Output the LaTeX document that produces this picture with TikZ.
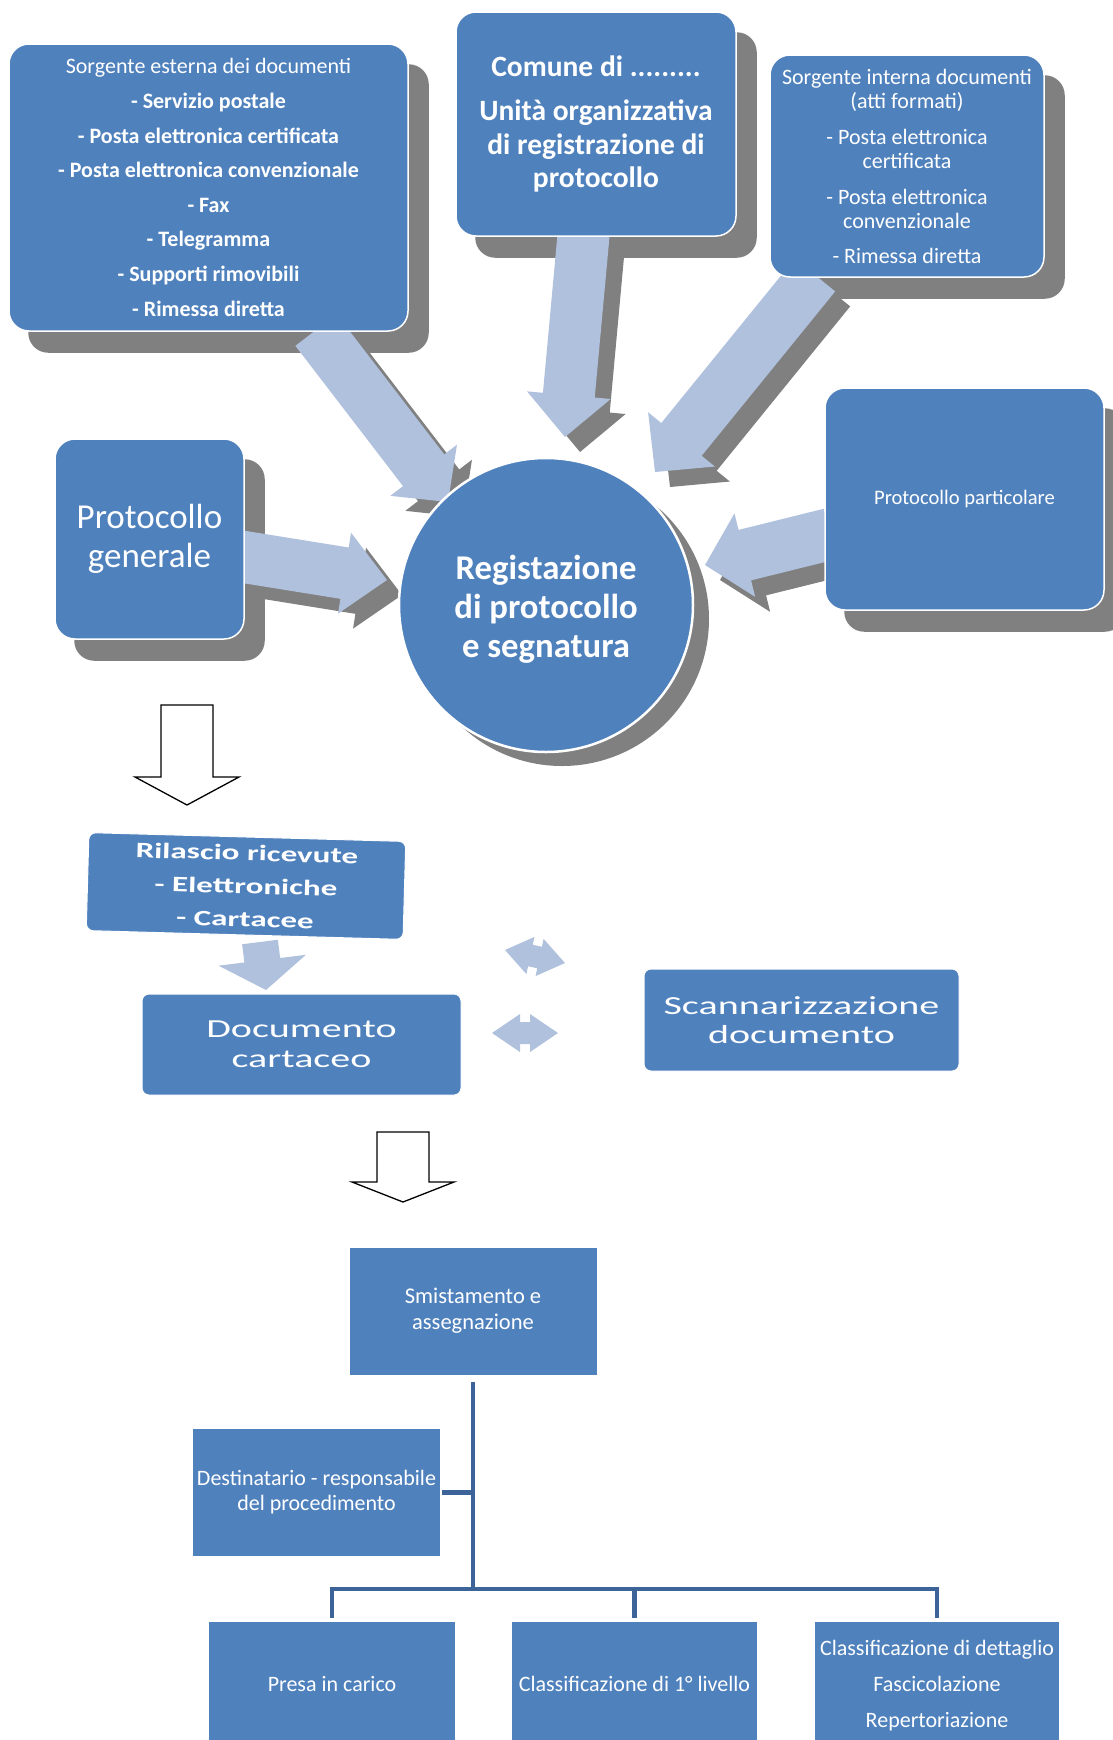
\documentclass[tikz,border=0pt]{standalone}
\usepackage{fontspec}
\setmainfont{Carlito}
\newfontfamily\widefont[FakeStretch=1.54]{Carlito}
\newfontfamily\widebfont[FakeStretch=1.5]{Carlito}
\usetikzlibrary{calc}
\pgfdeclarelayer{bg}
\pgfsetlayers{bg,main}
\definecolor{boxblue}{HTML}{4F81BD}
\definecolor{arrowlight}{HTML}{B0C1DD}
\definecolor{shadowgrey}{HTML}{808080}
\definecolor{linedark}{HTML}{3D6499}
\newcommand\fatarrow[6]{%
  \coordinate (fa-h) at ($(#2)!#5!(#1)$);
  \path[#6] ($(#1)!#3!90:(#2)$) -- ($(fa-h)!#3!90:(#2)$) -- ($(fa-h)!#4!90:(#2)$) -- (#2) -- ($(fa-h)!#4!-90:(#2)$) -- ($(fa-h)!#3!-90:(#2)$) -- ($(#1)!#3!-90:(#2)$) -- cycle;}
\newcommand\dblarrow[6]{%
  \coordinate (da-h1) at ($(#1)!#5!(#2)$);
  \coordinate (da-h2) at ($(#2)!#5!(#1)$);
  \path[#6] (#1) -- ($(da-h1)!#4!90:(#2)$) -- ($(da-h1)!#3!90:(#2)$) -- ($(da-h2)!#3!90:(#2)$) -- ($(da-h2)!#4!90:(#2)$) -- (#2) -- ($(da-h2)!#4!-90:(#2)$) -- ($(da-h2)!#3!-90:(#2)$) -- ($(da-h1)!#3!-90:(#2)$) -- ($(da-h1)!#4!-90:(#2)$) -- cycle;}
\begin{document}
\begin{tikzpicture}[x=1pt,y=-1pt,
  box/.style={fill=boxblue, draw=white, line width=1.5pt, rounded corners=20pt, text=white, align=center, inner sep=0pt},
  softbox/.style={fill=boxblue, draw=white, line width=1pt, rounded corners=7pt, text=white, align=center, inner sep=0pt},
  flatbox/.style={fill=boxblue, text=white, align=center, inner sep=0pt},
  boxtext/.style={text=white, align=center, inner sep=0pt},
  lightarrow/.style={fill=arrowlight},
  shade/.style={fill=shadowgrey},
  tree/.style={draw=linedark, line width=4.5pt},
  whitearrow/.style={fill=white, draw=black, line width=1.3pt, line join=miter}]
\useasboundingbox (0,0) rectangle (1112,1740);

% ---- top boxes
\node[box, minimum width=399pt, minimum height=287pt, font={\fontsize{22}{34.6}\selectfont}] (ext) at (208.5,187.5)
 {Sorgente esterna dei documenti\\ \textbf{- Servizio postale}\\ \textbf{- Posta elettronica certificata}\\ \textbf{- Posta elettronica convenzionale}\\ \textbf{- Fax}\\ \textbf{- Telegramma}\\ \textbf{- Supporti rimovibili}\\ \textbf{- Rimessa diretta}};
\node[box, minimum width=280pt, minimum height=224pt, font={\bfseries\fontsize{29.5}{33.5}\selectfont}] (com) at (596,124)
 {Comune di .........\\[11pt] Unità organizzativa\\ di registrazione di\\ protocollo};
\node[box, minimum width=274pt, minimum height=222pt, font={\fontsize{22}{24.5}\selectfont}] (int) at (907,166)
 {Sorgente interna documenti\\ (atti formati)\\[11pt] - Posta elettronica\\ certificata\\[11pt] - Posta elettronica\\ convenzionale\\[10pt] - Rimessa diretta};
\node[box, minimum width=189pt, minimum height=200pt, font={\fontsize{35}{39}\selectfont}] (pg) at (149.5,539)
 {Protocollo\\ generale};
\node[box, minimum width=279pt, minimum height=222pt, font={\fontsize{20.6}{24}\selectfont}] (pp) at (964.5,499)
 {Protocollo particolare};
\node[circle, fill=boxblue, draw=white, line width=2.5pt, minimum size=294pt, inner sep=0pt,
  label={[boxtext, yshift=-4pt, font={\bfseries\fontsize{34.7}{39}\selectfont}]center:Registazione\\ di protocollo\\ e segnatura}] (circ) at (546,605) {};

% ---- arrow end points
\coordinate (a1) at (316,330); \coordinate (a2) at (448,502);
\coordinate (b1) at (584,230); \coordinate (b2) at (565,437);
\coordinate (c1) at (815,275); \coordinate (c2) at (655,472);
\coordinate (d1) at (830,534); \coordinate (d2) at (705,565);
\coordinate (e1) at (238,556); \coordinate (e2) at (387,580);

\begin{pgfonlayer}{bg}
 \begin{scope}[transform canvas={xshift=20pt,yshift=-21pt}]
  \fill[shade, rounded corners=20pt] (ext.north west) rectangle (ext.south east);
  \fill[shade, rounded corners=20pt] (com.north west) rectangle (com.south east);
  \fill[shade, rounded corners=20pt] (int.north west) rectangle (int.south east);
  \fill[shade, rounded corners=20pt] (pg.north west) rectangle (pg.south east);
  \fill[shade, rounded corners=20pt] (pp.north west) rectangle (pp.south east);
 \end{scope}
 \begin{scope}[transform canvas={xshift=16pt,yshift=-14pt}]
  \fill[shade] (circ.center) circle[radius=147pt];
 \end{scope}
 \begin{scope}[transform canvas={xshift=15pt,yshift=-15pt}]
  \fatarrow{a1}{a2}{26pt}{42pt}{40pt}{shade}
  \fatarrow{b1}{b2}{26pt}{42pt}{42pt}{shade}
  \fatarrow{c1}{c2}{26pt}{43pt}{42pt}{shade}
  \fatarrow{d1}{d2}{26pt}{43pt}{41pt}{shade}
  \fatarrow{e1}{e2}{26pt}{41pt}{43pt}{shade}
 \end{scope}
 \fatarrow{a1}{a2}{26pt}{42pt}{40pt}{lightarrow}
 \fatarrow{b1}{b2}{26pt}{42pt}{42pt}{lightarrow}
 \fatarrow{c1}{c2}{26pt}{43pt}{42pt}{lightarrow}
 \fatarrow{d1}{d2}{26pt}{43pt}{41pt}{lightarrow}
 \fatarrow{e1}{e2}{26pt}{41pt}{43pt}{lightarrow}
\end{pgfonlayer}

% ---- middle part
\coordinate (w1a) at (187,705); \coordinate (w1b) at (187,805);
\fatarrow{w1a}{w1b}{26pt}{52pt}{28pt}{whitearrow}

\node[softbox, rotate=-1.6, minimum width=317pt, minimum height=98pt,
  font={\widebfont\bfseries\fontsize{22}{33}\selectfont}] (ril) at (246,886)
 {Rilascio ricevute\\ - Elettroniche\\ - Cartacee};
\node[softbox, minimum width=319pt, minimum height=101pt, font={\widefont\fontsize{26}{30}\selectfont}] (doc) at (301.5,1044.5)
 {Documento\\ cartaceo};
\node[softbox, minimum width=315pt, minimum height=102pt, font={\widefont\fontsize{26}{29}\selectfont}] (scan) at (801.5,1020)
 {Scannarizzazione\\ documento};

\coordinate (s1) at (260,942); \coordinate (s2) at (266,990);
\fatarrow{s1}{s2}{18pt}{44pt}{30pt}{lightarrow}
\coordinate (t1) at (505,950); \coordinate (t2) at (565,963);
\dblarrow{t1}{t2}{11pt}{19pt}{26pt}{lightarrow}
\coordinate (u1) at (492,1033); \coordinate (u2) at (558,1033);
\dblarrow{u1}{u2}{11pt}{19pt}{28pt}{lightarrow}

\coordinate (w2a) at (403,1132); \coordinate (w2b) at (403,1202);
\fatarrow{w2a}{w2b}{26pt}{51pt}{20pt}{whitearrow}

% ---- lower tree
\node[flatbox, minimum width=247pt, minimum height=127pt, font={\fontsize{22.5}{26}\selectfont}] (smist) at (473,1311)
 {Smistamento e\\ assegnazione};
\node[flatbox, minimum width=247pt, minimum height=127pt, font={\fontsize{22}{25}\selectfont}] (dest) at (316.5,1492.5)
 {Destinatario - responsabile\\ del procedimento};
\node[flatbox, minimum width=246pt, minimum height=118pt,
  label={[boxtext, yshift=-2.5pt, font={\fontsize{22}{36}\selectfont}]center:Presa in carico}] (presa) at (332,1681) {};
\node[flatbox, minimum width=245pt, minimum height=118pt,
  label={[boxtext, yshift=-2.5pt, font={\fontsize{22}{36}\selectfont}]center:Classificazione di 1° livello}] (cl1) at (634.5,1681) {};
\node[flatbox, minimum width=244pt, minimum height=118pt,
  label={[boxtext, yshift=-5pt, font={\fontsize{22}{36}\selectfont}]center:Classificazione di dettaglio\\ Fascicolazione\\ Repertoriazione}] (dett) at (937,1681) {};

\coordinate (hub) at (473,1589);
\draw[tree] ([yshift=-7pt]smist.south) -- (hub);
\draw[tree] ([yshift=4pt]presa.north) |- (hub) -| ([yshift=4pt]dett.north);
\draw[tree] ([yshift=4pt]cl1.north) -- (cl1.north |- hub);
\draw[tree] ([xshift=2pt]dest.east) -- (dest.east -| hub);
\end{tikzpicture}
\end{document}
